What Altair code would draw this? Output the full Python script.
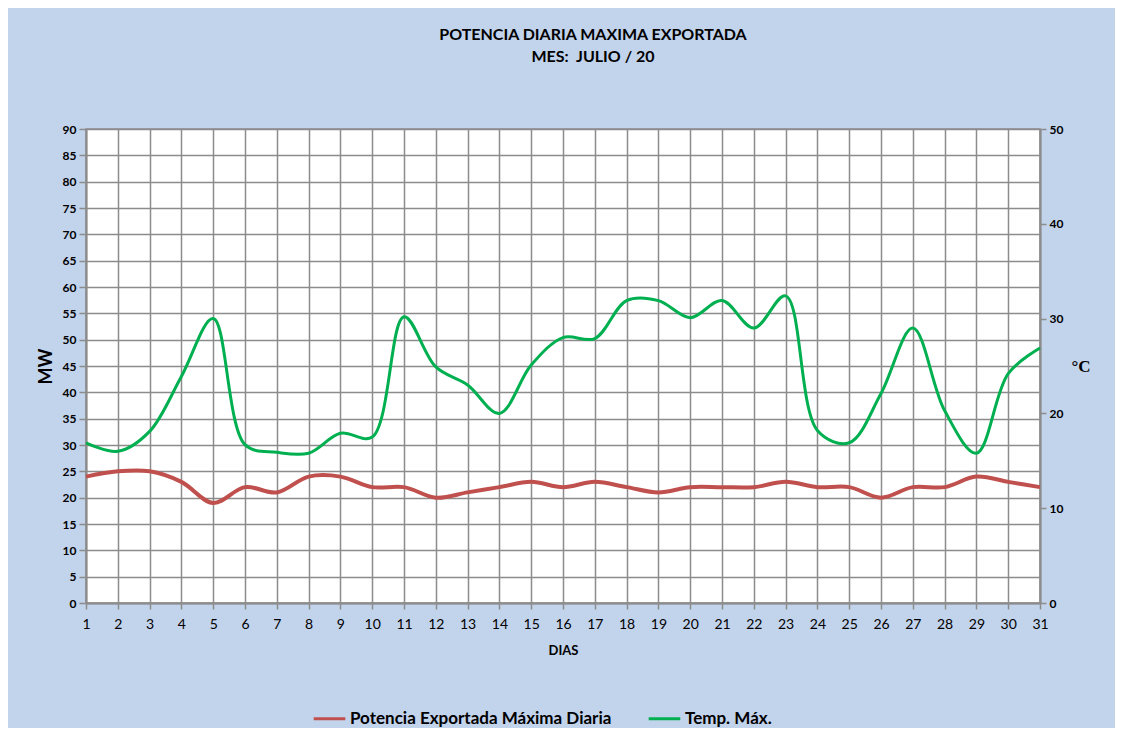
import altair as alt
import pandas as pd

dias = list(range(1, 32))
potencia = [24, 25, 25, 23, 19, 22, 21, 24, 24, 22, 22, 20, 21, 22, 23, 22,
            23, 22, 21, 22, 22, 22, 23, 22, 22, 20, 22, 22, 24, 23, 22]
temp = [16.9, 16.0, 18.1, 23.9, 30.0, 16.7, 15.9, 15.8, 17.9, 17.5, 30.2,
        24.9, 23.0, 20.0, 25.1, 28.0, 27.9, 31.9, 31.9, 30.1, 31.9, 29.0,
        32.4, 18.2, 16.9, 22.1, 29.0, 20.3, 15.8, 24.2, 26.9]

s_pot = "Potencia Exportada Máxima Diaria"
s_tmp = "Temp. Máx."
series = [s_pot, s_tmp]
colores = ["#c0504d", "#00b050"]

rows = []
for d, p in zip(dias, potencia):
    rows.append({"dia": d, "valor": p, "serie": s_pot})
for d, t in zip(dias, temp):
    rows.append({"dia": d, "valor": t, "serie": s_tmp})
df = pd.DataFrame(rows)

FONT = "Lato"
GRID = "#8c8c8c"

x_enc = alt.X(
    "dia:Q",
    scale=alt.Scale(domain=[1, 31], nice=False, zero=False),
    axis=alt.Axis(
        values=dias, title="DIAS", grid=True, gridColor=GRID, gridWidth=1.5,
        domainColor=GRID, domainWidth=2, tickColor=GRID, tickSize=6, tickWidth=1.5,
        labelFont=FONT, labelFontSize=14, labelColor="black", labelPadding=8,
        titleFont=FONT, titleFontSize=13, titleFontWeight="bold", titleColor="black",
        titlePadding=13, labelFlush=False,
    ),
)

color_enc = alt.Color(
    "serie:N",
    scale=alt.Scale(domain=series, range=colores),
    legend=alt.Legend(
        title=None, orient="none", direction="horizontal", legendX=226, legendY=572,
        symbolType="stroke", symbolSize=1000, symbolStrokeWidth=3,
        labelFont=FONT, labelFontSize=17, labelFontWeight="bold", labelColor="black",
        labelLimit=400, columnPadding=30, labelOffset=3, padding=0,
    ),
)

base = alt.Chart(df)

linea_pot = base.transform_filter(alt.datum.serie == s_pot).mark_line(
    interpolate="catmull-rom", strokeWidth=4
).encode(
    x=x_enc,
    y=alt.Y(
        "valor:Q",
        scale=alt.Scale(domain=[0, 90], nice=False),
        axis=alt.Axis(
            orient="left", values=list(range(0, 91, 5)), title="MW",
            grid=True, gridColor=GRID, gridWidth=1.5,
            domainColor=GRID, domainWidth=2, tickColor=GRID, tickSize=7, tickWidth=1.5,
            labelFont=FONT, labelFontSize=12, labelFontWeight="bold", labelColor="black",
            labelPadding=3,
            titleFont=FONT, titleFontSize=18, titleFontWeight="bold", titleColor="black",
            titlePadding=7,
        ),
    ),
    color=color_enc,
)

linea_tmp = base.transform_filter(alt.datum.serie == s_tmp).mark_line(
    interpolate="catmull-rom", strokeWidth=3
).encode(
    x=x_enc,
    y=alt.Y(
        "valor:Q",
        scale=alt.Scale(domain=[0, 50], nice=False),
        axis=alt.Axis(
            orient="right", values=list(range(0, 51, 10)), title="°C",
            grid=False, domainColor=GRID, domainWidth=2, tickColor=GRID, tickSize=6,
            tickWidth=1.5,
            labelFont=FONT, labelFontSize=12, labelFontWeight="bold", labelColor="black",
            labelPadding=3,
            titleFont="Liberation Serif", titleFontSize=17, titleFontWeight="bold",
            titleColor="black", titleAngle=0, titleAlign="left", titleBaseline="middle",
            titlePadding=8,
        ),
    ),
    color=color_enc,
)

chart = alt.layer(linea_pot, linea_tmp).resolve_scale(y="independent").properties(
    width=954,
    height=474,
    title=alt.TitleParams(
        text=["POTENCIA DIARIA MAXIMA EXPORTADA", "MES:\u00a0\u00a0JULIO / 20"],
        font=FONT, fontSize=16, fontWeight="bold", color="black",
        anchor="middle", dx=30, offset=58, lineHeight=22, frame="group",
    ),
    background="#c2d3ec",
    autosize=alt.AutoSizeParams(type="none"),
    padding={"left": 78, "top": 121, "right": 75, "bottom": 125},
).configure_view(
    fill="white", stroke=GRID, strokeWidth=1.5
)

chart.save("out.html", embed_options={"renderer": "svg", "actions": False})
